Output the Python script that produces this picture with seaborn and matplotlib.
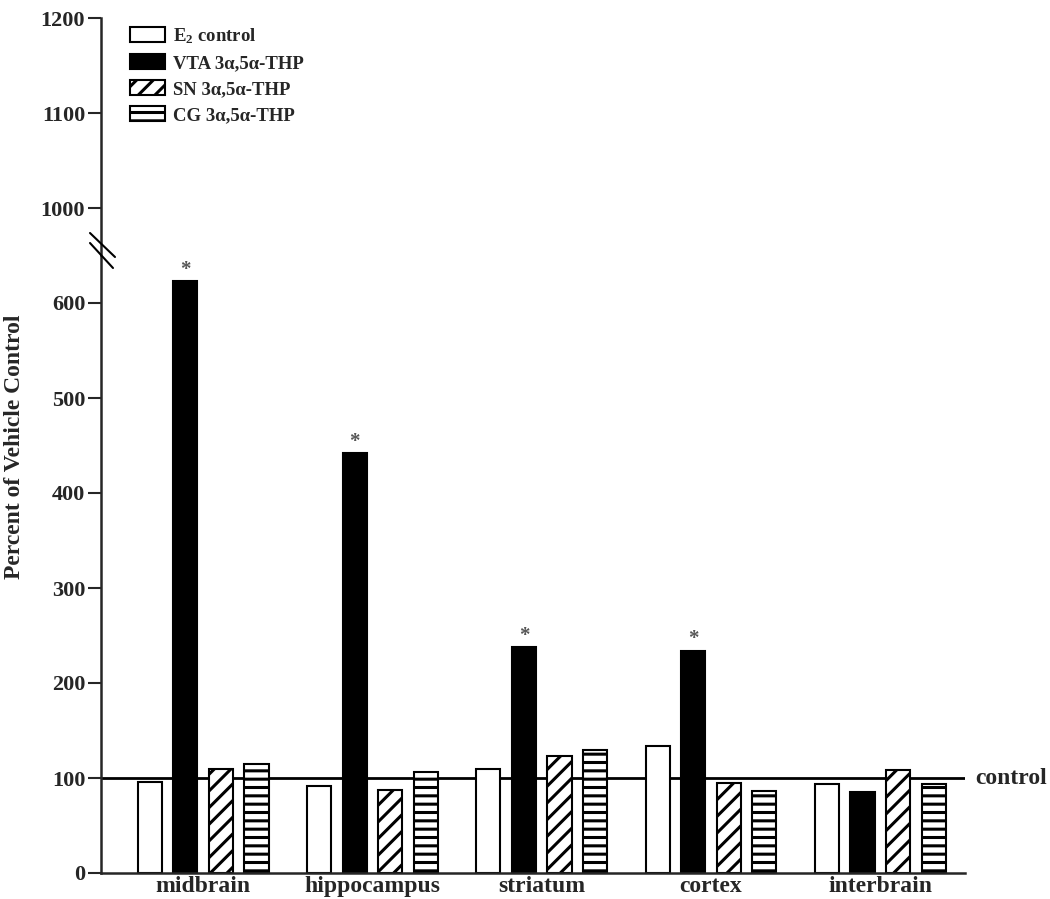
import pandas as pd
import seaborn as sns
import matplotlib.pyplot as plt
import matplotlib.transforms as mtransforms
from matplotlib.lines import Line2D

# values (percent of vehicle control)
regions = ['midbrain', 'hippocampus', 'striatum', 'cortex', 'interbrain']
groups = ['E2 control', 'VTA 3a,5a-THP', 'SN 3a,5a-THP', 'CG 3a,5a-THP']
legend_labels = [r'$\mathbf{E_2}$ control', 'VTA 3α,5α-THP', 'SN 3α,5α-THP', 'CG 3α,5α-THP']
e2_control = [96, 92, 109, 134, 94]
vta_thp = [623, 442, 238, 234, 85]
sn_thp = [109, 87, 123, 95, 108]
cg_thp = [115, 106, 130, 86, 94]
vta_significant = [True, True, True, True, False]

lower_ticks = [0, 100, 200, 300, 400, 500, 600]
upper_ticks = [1000, 1100, 1200]

sns.set_style('ticks')
plt.rcParams['font.family'] = ['Liberation Serif', 'DejaVu Serif']
plt.rcParams['font.weight'] = 'bold'
plt.rcParams['mathtext.fontset'] = 'custom'
plt.rcParams['mathtext.rm'] = 'Liberation Serif:bold'
plt.rcParams['mathtext.bf'] = 'Liberation Serif:bold'
plt.rcParams['hatch.linewidth'] = 2.2

df = pd.DataFrame({
    'region': regions * 4,
    'group': [g for g in groups for _ in regions],
    'value': e2_control + vta_thp + sn_thp + cg_thp,
})

fig = plt.figure(figsize=(10.5, 8.99), dpi=100)
W, H = 1050, 899
left, right = 101, 965
ax = fig.add_axes([left / W, (H - 873) / H, (right - left) / W, (873 - 255.5) / H])
ax_top = fig.add_axes([left / W, (H - 255.5) / H, (right - left) / W, (255.5 - 18) / H])

sns.barplot(data=df, x='region', y='value', hue='group', hue_order=groups,
            palette=['white', 'black', 'white', 'white'], saturation=1,
            edgecolor='black', linewidth=1.5, width=0.84, gap=0.32,
            legend=False, ax=ax)

for cont, h in zip(ax.containers, [None, None, '//', '--']):
    for p in cont:
        p.set_hatch(h)
        p.set_zorder(2)

ax.axhline(100, color='black', lw=2, zorder=1)
trans = mtransforms.blended_transform_factory(ax.transAxes, ax.transData)
ax.text(1.012, 100, 'control', transform=trans, va='center', ha='left', fontsize=17)

for p, sig in zip(ax.containers[1], vta_significant):
    if sig:
        ax.annotate('*', (p.get_x() + p.get_width() / 2, p.get_height()),
                    xytext=(0, 1), textcoords='offset points',
                    ha='center', va='bottom', fontsize=15, color='#555555')

xlim = (-0.603, 4.5)
ax.set_xlim(*xlim)
ax.set_ylim(0, 650)
ax.set_yticks(lower_ticks)
ax.set_xlabel('')
ax.set_ylabel('')
ax.tick_params(axis='y', length=9.4, width=1.5, labelsize=16, pad=2)
ax.tick_params(axis='x', length=0, labelsize=17, pad=2.5)
for s in ['top', 'right']:
    ax.spines[s].set_visible(False)
for s in ['left', 'bottom']:
    ax.spines[s].set_linewidth(1.8)

ax_top.set_xlim(*xlim)
ax_top.set_ylim(950, 1200)
ax_top.set_yticks(upper_ticks)
ax_top.set_xticks([])
ax_top.tick_params(axis='y', length=9.4, width=1.5, labelsize=16, pad=2)
for s in ['top', 'right', 'bottom']:
    ax_top.spines[s].set_visible(False)
ax_top.spines['left'].set_linewidth(1.8)

ax_top.legend(handles=ax.containers, labels=legend_labels, loc='upper left',
              bbox_to_anchor=(130 / W, 1 - 26 / H), bbox_transform=fig.transFigure,
              frameon=False, fontsize=13.5, handlelength=1.87, handleheight=0.9,
              labelspacing=0.42, handletextpad=0.4, borderpad=0, borderaxespad=0)

# axis break marks
for (x0, y0, x1, y1) in [(90, 233, 115, 257), (90, 243, 113, 268)]:
    fig.add_artist(Line2D([x0 / W, x1 / W], [1 - y0 / H, 1 - y1 / H],
                          transform=fig.transFigure, color='black', lw=1.5))

fig.text(15 / W, 1 - 447 / H, 'Percent of Vehicle Control', rotation=90,
         ha='center', va='center', fontsize=17)

fig.savefig('out.png', dpi=100)
